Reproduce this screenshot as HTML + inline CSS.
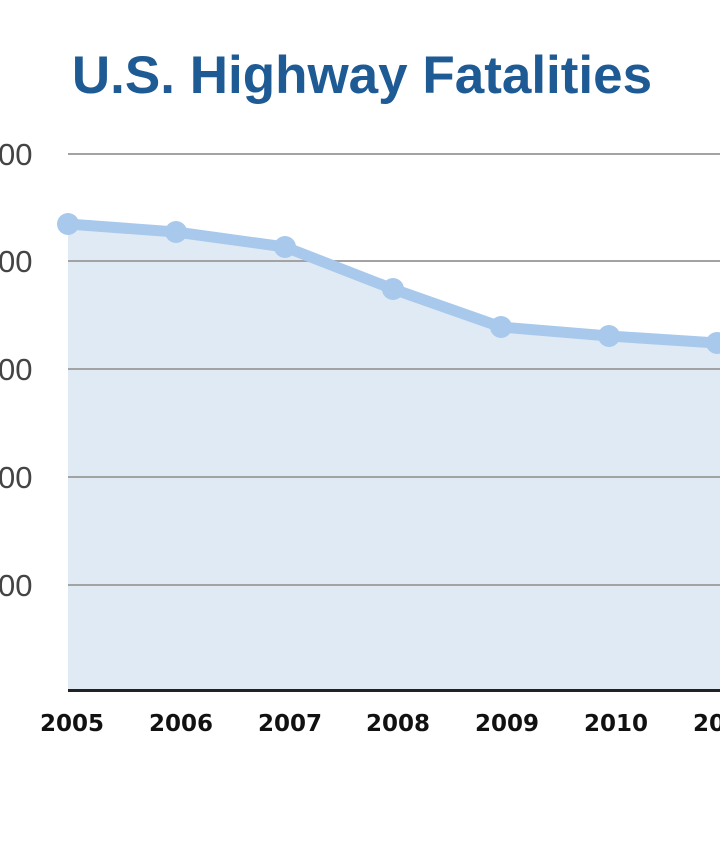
<!DOCTYPE html>
<html><head><style>
html,body{margin:0;padding:0;background:#fff;width:720px;height:845px;overflow:hidden}
</style></head><body>
<svg width="720" height="845" viewBox="0 0 720 845" xmlns="http://www.w3.org/2000/svg">
<text x="362" y="93" text-anchor="middle" font-family="Liberation Sans, sans-serif" font-weight="bold" font-size="53" fill="#1e5a94">U.S. Highway Fatalities</text>
<polygon points="68,224 176,232 285,247 393,289 501,327 609,336 717,343 720,343 720,689 68,689" fill="#dfeaf5"/>
<g stroke="#a3a3a3" stroke-width="2">
<line x1="68" y1="154" x2="720" y2="154"/>
<line x1="68" y1="261" x2="720" y2="261"/>
<line x1="68" y1="369" x2="720" y2="369"/>
<line x1="68" y1="477" x2="720" y2="477"/>
<line x1="68" y1="585" x2="720" y2="585"/>
</g>
<line x1="68" y1="690.5" x2="720" y2="690.5" stroke="#222" stroke-width="3"/>
<g font-family="Liberation Sans, sans-serif" font-size="31" fill="#444">
<text x="-2" y="165">00</text>
<text x="-2" y="272">00</text>
<text x="-2" y="380">00</text>
<text x="-2" y="488">00</text>
<text x="-2" y="596">00</text>
</g>
<polyline points="68,224 176,232 285,247 393,289 501,327 609,336 717,343 730,344" fill="none" stroke="#a8c9ec" stroke-width="11" stroke-linejoin="round"/>
<g fill="#a8c9ec">
<circle cx="68" cy="224" r="11"/><circle cx="176" cy="232" r="11"/><circle cx="285" cy="247" r="11"/><circle cx="393" cy="289" r="11"/><circle cx="501" cy="327" r="11"/><circle cx="609" cy="336" r="11"/><circle cx="717" cy="343" r="11"/>
</g>
<g font-family="DejaVu Sans, sans-serif" font-weight="bold" font-size="23" fill="#111" text-anchor="middle">
<text x="72" y="731">2005</text>
<text x="181" y="731">2006</text>
<text x="290" y="731">2007</text>
<text x="398" y="731">2008</text>
<text x="507" y="731">2009</text>
<text x="616" y="731">2010</text>
<text x="725" y="731">2011</text>
</g>
</svg>
</body></html>
